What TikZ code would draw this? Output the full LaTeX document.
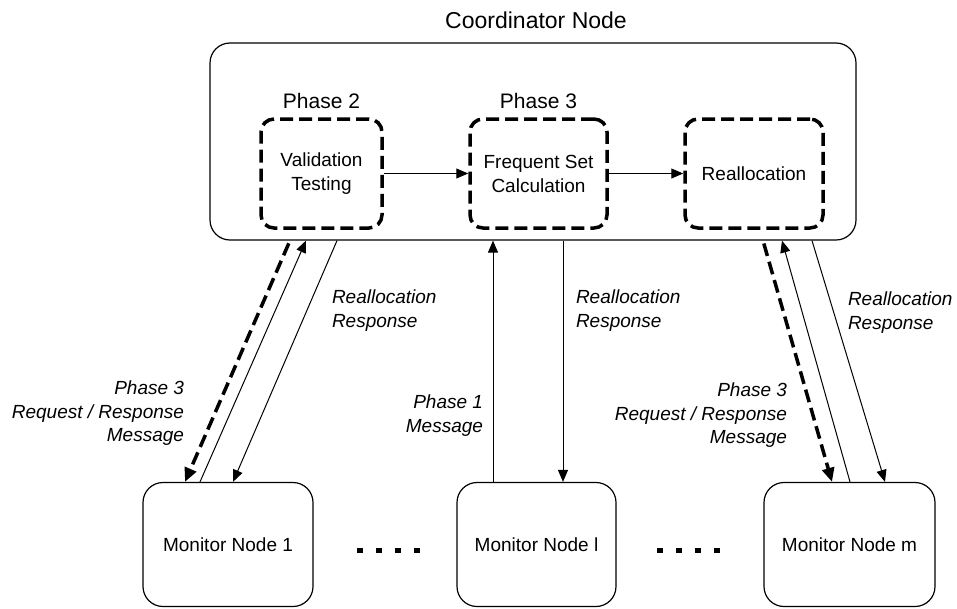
\documentclass[tikz,border=0pt]{standalone}
\usepackage{fontspec}
\setmainfont{Liberation Sans}
\usetikzlibrary{arrows.meta}

\begin{document}
\begin{tikzpicture}[x=1pt,y=-1pt,
  every node/.style={inner sep=0pt, outer sep=0pt},
  coordbox/.style={draw, line width=1.2pt, rounded corners=20pt,
    minimum width=646pt, minimum height=197pt, outer sep=0.6pt},
  phasebox/.style={draw, line width=3.5pt, dash pattern=on 13pt off 6pt,
    rounded corners=13pt, minimum height=109pt, outer sep=1.75pt,
    align=center, font=\fontsize{19}{24}\selectfont},
  monbox/.style={draw, line width=1.2pt, rounded corners=20pt,
    minimum height=124pt, outer sep=0.6pt, font=\fontsize{19}{23}\selectfont},
  msglabel/.style={font=\fontsize{19}{23.5}\selectfont\itshape},
  thinarrow/.style={line width=1pt, -{Triangle[length=12pt,width=10pt]}},
  thickarrow/.style={line width=3.5pt, dash pattern=on 13pt off 6pt,
    -{Triangle[length=14pt,width=12pt]}},
]
\useasboundingbox (0,0) rectangle (957,608);
\fill[white] (0,0) rectangle (957,608);

% coordinator and its three stages
\node[coordbox] (coord) at (533,141.5) {};
\node[anchor=base, font=\fontsize{23}{27}\selectfont] (title) at (536,28) {Coordinator Node};
\node[anchor=base, font=\fontsize{21}{25}\selectfont] (ph2) at (321.5,108) {Phase 2};
\node[anchor=base, font=\fontsize{21}{25}\selectfont] (ph3) at (538.5,108) {Phase 3};
\node[phasebox, minimum width=121pt] (p2) at (321.5,173.5) {Validation\\Testing};
\node[phasebox, minimum width=137pt] (p3) at (538.5,173.5) {Frequent Set\\Calculation};
\node[phasebox, minimum width=138pt] (p4) at (754,173.5) {Reallocation};
\draw[thinarrow] (p2) -- (p3);
\draw[thinarrow] (p3) -- (p4);

% monitor nodes
\node[monbox, minimum width=170pt] (m1) at (228,544.5) {Monitor Node 1};
\node[monbox, minimum width=159pt] (ml) at (536.5,544.5) {Monitor Node l};
\node[monbox, minimum width=171pt] (mm) at (849.5,544.5) {Monitor Node m};
\foreach \x in {360,379,398,417,660,679,698,717}
  \fill (\x-2.75,547.5) rectangle ++(5.5,5.5);

% messages to and from monitor node 1
\draw[thickarrow, shorten <=3pt] ([xshift=-243pt]coord.south) -- ([xshift=-43pt]m1.north);
\draw[thinarrow] ([xshift=-28pt]m1.north) -- ([xshift=-227pt]coord.south);
\draw[thinarrow] ([xshift=-196pt]coord.south) -- ([xshift=5pt]m1.north);

% messages to and from monitor node l
\draw[thinarrow] ([xshift=-43.5pt]ml.north) -- ([xshift=-40pt]coord.south);
\draw[thinarrow] ([xshift=30pt]coord.south) -- ([xshift=26.5pt]ml.north);

% messages to and from monitor node m
\draw[thickarrow, shorten <=3pt] ([xshift=230pt]coord.south) -- ([xshift=-17.5pt]mm.north);
\draw[thinarrow] ([xshift=0.5pt]mm.north) -- ([xshift=249pt]coord.south);
\draw[thinarrow] ([xshift=279pt]coord.south) -- ([xshift=35.5pt]mm.north);

% message labels
\node[msglabel, align=right, anchor=north east] (l1) at (184,381) {Phase 3\\Request / Response\\Message};
\node[msglabel, align=left, anchor=north west] (l2) at (332,290) {Reallocation\\Response};
\node[msglabel, align=right, anchor=north east] (l3) at (483,395) {Phase 1\\Message};
\node[msglabel, align=left, anchor=north west] (l4) at (576,290) {Reallocation\\Response};
\node[msglabel, align=right, anchor=north east] (l5) at (787,383) {Phase 3\\Request / Response\\Message};
\node[msglabel, align=left, anchor=north west] (l6) at (848,292) {Reallocation\\Response};
\end{tikzpicture}
\end{document}
